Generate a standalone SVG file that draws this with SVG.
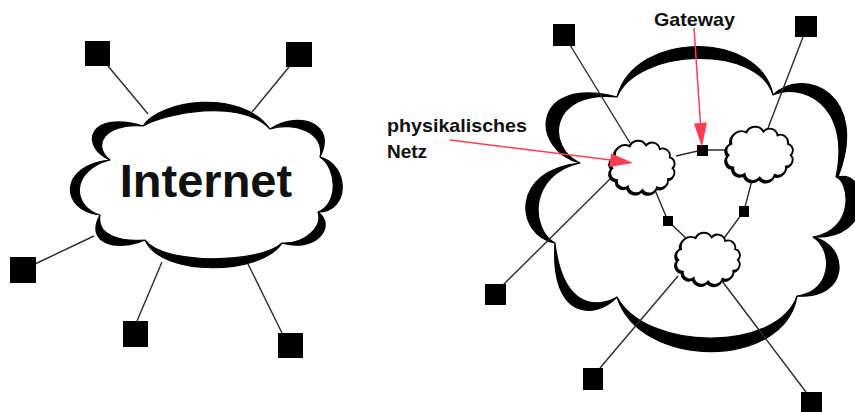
<svg xmlns="http://www.w3.org/2000/svg" xmlns:xlink="http://www.w3.org/1999/xlink" width="855" height="412" viewBox="0 0 855 412">
  <style>
    .bg { fill: #ffffff; }
    .link { stroke: #2b2b2b; stroke-width: 1.4; fill: none; }
    .host { fill: #000000; }
    .gw { fill: #000000; }
    .shadow { fill: #000000; stroke: #000000; stroke-width: 1.2; stroke-linejoin: round; }
    .face { fill: #ffffff; stroke: #000000; stroke-width: 1.2; stroke-linejoin: round; }
    .subShadow { fill: #000000; stroke: #000000; stroke-width: 2.4; }
    .subFace { fill: #ffffff; stroke: #000000; stroke-width: 2; }
    .pointer { stroke: #ff3d50; stroke-width: 1.5; fill: none; }
    .pointerHead { fill: #ff3d50; }
    .label { font-family: "Liberation Sans", Arial, sans-serif; font-weight: bold; fill: #111111; }
  </style>
  <defs>
    <!-- small bumpy cloud, local box roughly 78 x 61 -->
    <path id="smallCloud" d="M 6,18 A 11,11 0 0 1 22,6 A 10,10 0 0 1 40,5 A 8.5,8.5 0 0 1 55,9 A 8,8 0 0 1 66,18 A 7,7 0 0 1 69,30 A 7,7 0 0 1 64,42 A 8.5,8.5 0 0 1 52,51 A 9,9 0 0 1 36,54 A 9,9 0 0 1 20,50 A 7.5,7.5 0 0 1 8,43 A 7.5,7.5 0 0 1 3,30 A 7,7 0 0 1 6,18 Z"/>
  </defs>

  <rect class="bg" x="0" y="0" width="855" height="412"/>

  <!-- links of the left picture -->
  <g id="connectors-internet">
    <line class="link" x1="108" y1="66" x2="148" y2="114"/>
    <line class="link" x1="289" y1="67" x2="252" y2="112"/>
    <line class="link" x1="35" y1="264" x2="94" y2="236"/>
    <line class="link" x1="137" y1="321" x2="162" y2="262"/>
    <line class="link" x1="282" y1="333" x2="247" y2="262"/>
  </g>

  <!-- Internet cloud -->
  <g id="internet">
    <path class="shadow" d="M 143,126 C 160,100 240,88 270,129 C 300,110 337,124 320,157 C 350,165 350,212 318,212 C 337,226 316,253 282,243 C 262,275 162,278 145,240 C 118,252 84,244 100,215 C 59,210 59,165 110,160 C 78,145 90,110 143,126 Z"/>
    <path class="face" d="M 143,126 C 165,113 240,98 270,129 C 294,121 326,133 320,157 C 338,169 338,205 318,212 C 323,226 306,244 282,243 C 262,263 165,266 145,240 C 121,242 96,236 100,215 C 71,206 71,170 110,160 C 92,146 103,123 143,126 Z"/>
    <text class="label" x="206" y="197" font-size="47" text-anchor="middle">Internet</text>
  </g>

  <!-- hosts around the Internet cloud -->
  <g id="hosts-left">
    <rect class="host" x="85" y="41" width="25" height="25"/>
    <rect class="host" x="286" y="42" width="26" height="25"/>
    <rect class="host" x="10" y="257" width="26" height="26"/>
    <rect class="host" x="123" y="321" width="25" height="26"/>
    <rect class="host" x="278" y="333" width="25" height="25"/>
  </g>

  <!-- large cloud holding the physical networks -->
  <g id="internet-detail">
    <path class="shadow" d="M 617,97 C 635,30 760,30 773,95 C 805,65 870,95 838,177 C 870,170 875,240 813,237 C 850,245 850,300 797,296 C 785,370 640,370 617,297 C 595,320 550,320 555,243 C 515,235 510,170 580,163 C 530,150 530,75 617,97 Z"/>
    <path class="face" d="M 617,97 C 637,48 758,44 773,95 C 800,82 852,103 836,177 C 850,182 855,230 813,237 C 834,250 832,292 797,296 C 778,352 647,352 617,297 C 598,308 563,310 555,243 C 531,230 527,175 580,163 C 546,148 548,90 617,97 Z"/>
  </g>

  <!-- links inside and out of the large cloud -->
  <g id="connectors-detail">
    <line class="link" x1="570" y1="45" x2="630" y2="143"/>
    <line class="link" x1="803" y1="37" x2="768" y2="128"/>
    <line class="link" x1="503" y1="285" x2="612" y2="177"/>
    <line class="link" x1="600" y1="368" x2="678" y2="276"/>
    <line class="link" x1="806" y1="392" x2="722" y2="281"/>
    <polyline class="link" points="676,156 702,150 726,150"/>
    <polyline class="link" points="655,190 668,221 689,241"/>
    <polyline class="link" points="752,180 744,211 722,241"/>
  </g>

  <!-- physical networks -->
  <g id="net-a">
    <use xlink:href="#smallCloud" class="subShadow" transform="translate(608.7,142.1) scale(0.91)"/>
    <use xlink:href="#smallCloud" class="subFace" transform="translate(609.7,140.9) scale(0.91)"/>
  </g>
  <g id="net-b">
    <use xlink:href="#smallCloud" class="subShadow" transform="translate(724.8,128.1) scale(0.94)"/>
    <use xlink:href="#smallCloud" class="subFace" transform="translate(725.8,126.9) scale(0.94)"/>
  </g>
  <g id="net-c">
    <use xlink:href="#smallCloud" class="subShadow" transform="translate(674.7,234.1) scale(0.9)"/>
    <use xlink:href="#smallCloud" class="subFace" transform="translate(675.7,232.9) scale(0.9)"/>
  </g>

  <!-- gateways between the networks -->
  <g id="gateways">
    <rect class="gw" x="697" y="145" width="11" height="11"/>
    <rect class="gw" x="663" y="216" width="10" height="10"/>
    <rect class="gw" x="739" y="206" width="10" height="11"/>
  </g>

  <!-- hosts around the large cloud -->
  <g id="hosts-right">
    <rect class="host" x="553" y="24" width="22" height="22"/>
    <rect class="host" x="795" y="16" width="22" height="21"/>
    <rect class="host" x="485" y="284" width="21" height="21"/>
    <rect class="host" x="583" y="368" width="20" height="22"/>
    <rect class="host" x="801" y="392" width="21" height="20"/>
  </g>

  <!-- annotations -->
  <g id="label-physical">
    <text class="label" x="387" y="132" font-size="19" textLength="140" lengthAdjust="spacingAndGlyphs">physikalisches</text>
    <text class="label" x="387" y="158" font-size="19">Netz</text>
    <line class="pointer" x1="450" y1="140" x2="611" y2="160"/>
    <polygon class="pointerHead" points="633,163 609.3,167 611.1,153.2"/>
  </g>
  <g id="label-gateway">
    <text class="label" x="654" y="26" font-size="19" textLength="81" lengthAdjust="spacingAndGlyphs">Gateway</text>
    <line class="pointer" x1="694" y1="28" x2="700.5" y2="124"/>
    <polygon class="pointerHead" points="702,147 706.9,122.6 693.9,123.4"/>
  </g>
</svg>
